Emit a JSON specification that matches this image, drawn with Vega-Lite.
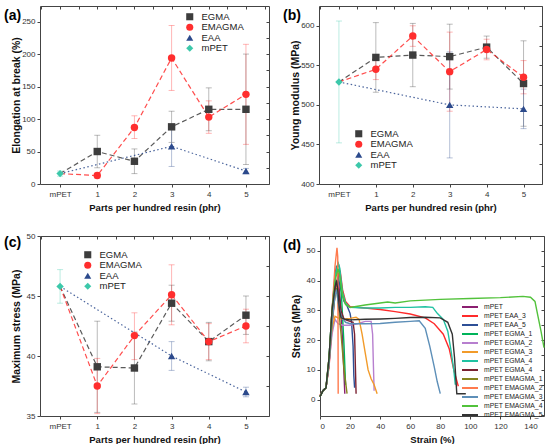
{
  "$schema": "https://vega.github.io/schema/vega-lite/v6.json",
  "padding": {"left": 3, "top": 5, "right": 0, "bottom": 0},
  "config": {
    "font": "Liberation Sans",
    "view": {"stroke": "#444", "strokeWidth": 1},
    "axis": {"labelFont": "Liberation Sans", "labelFontSize": 8, "labelColor": "#333", "titleFont": "Liberation Sans", "titleFontWeight": "bold", "titleColor": "#111", "grid": false, "domain": false, "tickColor": "#444", "tickSize": 3},
    "legend": {"labelFont": "Liberation Sans", "labelColor": "#222", "symbolOpacity": 1},
    "title": {"font": "Liberation Sans"}
  },
  "datasets": {
    "props": [
      {"p": "a", "s": "EGMA", "x": 0, "y": 16},
      {"p": "a", "s": "EMAGMA", "x": 0, "y": 16},
      {"p": "a", "s": "EAA", "x": 0, "y": 16},
      {"p": "a", "s": "EGMA", "x": 1, "y": 50, "lo": 25, "hi": 75},
      {"p": "a", "s": "EGMA", "x": 2, "y": 35, "lo": 16, "hi": 54},
      {"p": "a", "s": "EGMA", "x": 3, "y": 88, "lo": 64, "hi": 112},
      {"p": "a", "s": "EGMA", "x": 4, "y": 115, "lo": 82, "hi": 148},
      {"p": "a", "s": "EGMA", "x": 5, "y": 115, "lo": 30, "hi": 200},
      {"p": "a", "s": "EMAGMA", "x": 1, "y": 13, "lo": 9, "hi": 17},
      {"p": "a", "s": "EMAGMA", "x": 2, "y": 87, "lo": 70, "hi": 105},
      {"p": "a", "s": "EMAGMA", "x": 3, "y": 194, "lo": 144, "hi": 244},
      {"p": "a", "s": "EMAGMA", "x": 4, "y": 103, "lo": 78, "hi": 128},
      {"p": "a", "s": "EMAGMA", "x": 5, "y": 138, "lo": 61, "hi": 215},
      {"p": "a", "s": "EAA", "x": 3, "y": 58, "lo": 27, "hi": 90},
      {"p": "a", "s": "EAA", "x": 5, "y": 20, "lo": 16, "hi": 24},
      {"p": "a", "s": "mPET", "x": 0, "y": 16, "lo": 12, "hi": 20},
      {"p": "b", "s": "EGMA", "x": 0, "y": 529},
      {"p": "b", "s": "EMAGMA", "x": 0, "y": 529},
      {"p": "b", "s": "EAA", "x": 0, "y": 529},
      {"p": "b", "s": "EGMA", "x": 1, "y": 560, "lo": 516, "hi": 604},
      {"p": "b", "s": "EGMA", "x": 2, "y": 563, "lo": 523, "hi": 603},
      {"p": "b", "s": "EGMA", "x": 3, "y": 561, "lo": 520, "hi": 602},
      {"p": "b", "s": "EGMA", "x": 4, "y": 573, "lo": 559, "hi": 587},
      {"p": "b", "s": "EGMA", "x": 5, "y": 527, "lo": 473, "hi": 581},
      {"p": "b", "s": "EMAGMA", "x": 1, "y": 545, "lo": 532, "hi": 558},
      {"p": "b", "s": "EMAGMA", "x": 2, "y": 587, "lo": 574, "hi": 600},
      {"p": "b", "s": "EMAGMA", "x": 3, "y": 542, "lo": 492, "hi": 592},
      {"p": "b", "s": "EMAGMA", "x": 4, "y": 570, "lo": 557, "hi": 583},
      {"p": "b", "s": "EMAGMA", "x": 5, "y": 535, "lo": 514, "hi": 556},
      {"p": "b", "s": "EAA", "x": 3, "y": 500, "lo": 433, "hi": 567},
      {"p": "b", "s": "EAA", "x": 5, "y": 495, "lo": 470, "hi": 520},
      {"p": "b", "s": "mPET", "x": 0, "y": 529, "lo": 452, "hi": 606},
      {"p": "c", "s": "EGMA", "x": 0, "y": 45.8},
      {"p": "c", "s": "EMAGMA", "x": 0, "y": 45.8},
      {"p": "c", "s": "EAA", "x": 0, "y": 45.8},
      {"p": "c", "s": "EGMA", "x": 1, "y": 39.1, "lo": 35.3, "hi": 42.9},
      {"p": "c", "s": "EGMA", "x": 2, "y": 39.0, "lo": 36.0, "hi": 42.0},
      {"p": "c", "s": "EGMA", "x": 3, "y": 44.4, "lo": 42.9, "hi": 45.9},
      {"p": "c", "s": "EGMA", "x": 4, "y": 41.2, "lo": 39.6, "hi": 42.8},
      {"p": "c", "s": "EGMA", "x": 5, "y": 43.4, "lo": 41.8, "hi": 45.0},
      {"p": "c", "s": "EMAGMA", "x": 1, "y": 37.5, "lo": 35.2, "hi": 39.8},
      {"p": "c", "s": "EMAGMA", "x": 2, "y": 41.7, "lo": 39.7, "hi": 43.6},
      {"p": "c", "s": "EMAGMA", "x": 3, "y": 45.1, "lo": 42.6, "hi": 47.6},
      {"p": "c", "s": "EMAGMA", "x": 4, "y": 41.2, "lo": 39.7, "hi": 42.7},
      {"p": "c", "s": "EMAGMA", "x": 5, "y": 42.5, "lo": 41.1, "hi": 43.9},
      {"p": "c", "s": "EAA", "x": 3, "y": 40.0, "lo": 38.8, "hi": 41.2},
      {"p": "c", "s": "EAA", "x": 5, "y": 37.0, "lo": 36.6, "hi": 37.4},
      {"p": "c", "s": "mPET", "x": 0, "y": 45.8, "lo": 44.4, "hi": 47.2}
    ],
    "curves": [
      {"s": "mPET", "x": 0, "y": 1.2}, {"s": "mPET", "x": 2, "y": 3}, {"s": "mPET", "x": 4, "y": 4}, {"s": "mPET", "x": 6, "y": 14}, {"s": "mPET", "x": 8, "y": 30}, {"s": "mPET", "x": 10, "y": 42}, {"s": "mPET", "x": 11, "y": 45}, {"s": "mPET", "x": 12, "y": 42}, {"s": "mPET", "x": 13.5, "y": 33}, {"s": "mPET", "x": 15, "y": 20}, {"s": "mPET", "x": 16, "y": 8}, {"s": "mPET", "x": 16.5, "y": 2},
      {"s": "mPET EAA_3", "x": 0, "y": 1.5}, {"s": "mPET EAA_3", "x": 2, "y": 3}, {"s": "mPET EAA_3", "x": 4, "y": 4}, {"s": "mPET EAA_3", "x": 6, "y": 11}, {"s": "mPET EAA_3", "x": 8, "y": 24}, {"s": "mPET EAA_3", "x": 10, "y": 36}, {"s": "mPET EAA_3", "x": 12, "y": 42}, {"s": "mPET EAA_3", "x": 13.5, "y": 43}, {"s": "mPET EAA_3", "x": 15, "y": 37}, {"s": "mPET EAA_3", "x": 17, "y": 33}, {"s": "mPET EAA_3", "x": 20, "y": 31.2}, {"s": "mPET EAA_3", "x": 30, "y": 30.8}, {"s": "mPET EAA_3", "x": 40, "y": 30.3}, {"s": "mPET EAA_3", "x": 50, "y": 29.6}, {"s": "mPET EAA_3", "x": 60, "y": 28.8}, {"s": "mPET EAA_3", "x": 70, "y": 27.5}, {"s": "mPET EAA_3", "x": 76, "y": 25.5}, {"s": "mPET EAA_3", "x": 82, "y": 22}, {"s": "mPET EAA_3", "x": 86, "y": 17}, {"s": "mPET EAA_3", "x": 89, "y": 10}, {"s": "mPET EAA_3", "x": 92, "y": 4.5},
      {"s": "mPET EAA_5", "x": 0, "y": 1}, {"s": "mPET EAA_5", "x": 2, "y": 3}, {"s": "mPET EAA_5", "x": 4, "y": 4}, {"s": "mPET EAA_5", "x": 6, "y": 12}, {"s": "mPET EAA_5", "x": 8, "y": 28}, {"s": "mPET EAA_5", "x": 10, "y": 38}, {"s": "mPET EAA_5", "x": 12, "y": 41}, {"s": "mPET EAA_5", "x": 14, "y": 37}, {"s": "mPET EAA_5", "x": 16, "y": 33}, {"s": "mPET EAA_5", "x": 18, "y": 31.5}, {"s": "mPET EAA_5", "x": 20, "y": 29}, {"s": "mPET EAA_5", "x": 21, "y": 26}, {"s": "mPET EAA_5", "x": 22, "y": 18}, {"s": "mPET EAA_5", "x": 22.5, "y": 8}, {"s": "mPET EAA_5", "x": 23, "y": 4},
      {"s": "mPET EGMA_1", "x": 0, "y": 1}, {"s": "mPET EGMA_1", "x": 2, "y": 3}, {"s": "mPET EGMA_1", "x": 4, "y": 4}, {"s": "mPET EGMA_1", "x": 6, "y": 14}, {"s": "mPET EGMA_1", "x": 8, "y": 30}, {"s": "mPET EGMA_1", "x": 10, "y": 41}, {"s": "mPET EGMA_1", "x": 12, "y": 46}, {"s": "mPET EGMA_1", "x": 13, "y": 44}, {"s": "mPET EGMA_1", "x": 14.5, "y": 33}, {"s": "mPET EGMA_1", "x": 16, "y": 18}, {"s": "mPET EGMA_1", "x": 17, "y": 5},
      {"s": "mPET EGMA_2", "x": 0, "y": 1}, {"s": "mPET EGMA_2", "x": 2, "y": 3}, {"s": "mPET EGMA_2", "x": 4, "y": 4}, {"s": "mPET EGMA_2", "x": 6, "y": 12}, {"s": "mPET EGMA_2", "x": 8, "y": 22}, {"s": "mPET EGMA_2", "x": 10, "y": 27}, {"s": "mPET EGMA_2", "x": 12, "y": 25.5}, {"s": "mPET EGMA_2", "x": 15, "y": 25}, {"s": "mPET EGMA_2", "x": 20, "y": 25}, {"s": "mPET EGMA_2", "x": 25, "y": 25.5}, {"s": "mPET EGMA_2", "x": 30, "y": 26.3}, {"s": "mPET EGMA_2", "x": 34, "y": 26.3}, {"s": "mPET EGMA_2", "x": 35, "y": 22}, {"s": "mPET EGMA_2", "x": 35.5, "y": 12}, {"s": "mPET EGMA_2", "x": 36, "y": 3},
      {"s": "mPET EGMA_3", "x": 0, "y": 1}, {"s": "mPET EGMA_3", "x": 2, "y": 3}, {"s": "mPET EGMA_3", "x": 4, "y": 4}, {"s": "mPET EGMA_3", "x": 6, "y": 14}, {"s": "mPET EGMA_3", "x": 8, "y": 24}, {"s": "mPET EGMA_3", "x": 10, "y": 28}, {"s": "mPET EGMA_3", "x": 12, "y": 27.5}, {"s": "mPET EGMA_3", "x": 16, "y": 27}, {"s": "mPET EGMA_3", "x": 20, "y": 27.3}, {"s": "mPET EGMA_3", "x": 24, "y": 27.7}, {"s": "mPET EGMA_3", "x": 26, "y": 27}, {"s": "mPET EGMA_3", "x": 28, "y": 22}, {"s": "mPET EGMA_3", "x": 30, "y": 16}, {"s": "mPET EGMA_3", "x": 32, "y": 10}, {"s": "mPET EGMA_3", "x": 34, "y": 7}, {"s": "mPET EGMA_3", "x": 36, "y": 5}, {"s": "mPET EGMA_3", "x": 38, "y": 2},
      {"s": "mPET EGMA_4", "x": 0, "y": 1}, {"s": "mPET EGMA_4", "x": 2, "y": 3}, {"s": "mPET EGMA_4", "x": 4, "y": 4}, {"s": "mPET EGMA_4", "x": 6, "y": 13}, {"s": "mPET EGMA_4", "x": 8, "y": 28}, {"s": "mPET EGMA_4", "x": 10, "y": 41}, {"s": "mPET EGMA_4", "x": 12, "y": 46}, {"s": "mPET EGMA_4", "x": 13, "y": 44.5}, {"s": "mPET EGMA_4", "x": 15, "y": 36}, {"s": "mPET EGMA_4", "x": 17, "y": 32.5}, {"s": "mPET EGMA_4", "x": 20, "y": 31}, {"s": "mPET EGMA_4", "x": 30, "y": 30.8}, {"s": "mPET EGMA_4", "x": 40, "y": 30.8}, {"s": "mPET EGMA_4", "x": 50, "y": 31}, {"s": "mPET EGMA_4", "x": 60, "y": 31}, {"s": "mPET EGMA_4", "x": 70, "y": 31.2}, {"s": "mPET EGMA_4", "x": 75, "y": 31}, {"s": "mPET EGMA_4", "x": 78, "y": 29}, {"s": "mPET EGMA_4", "x": 82, "y": 27}, {"s": "mPET EGMA_4", "x": 85, "y": 23}, {"s": "mPET EGMA_4", "x": 87, "y": 17}, {"s": "mPET EGMA_4", "x": 89, "y": 10}, {"s": "mPET EGMA_4", "x": 90, "y": 5},
      {"s": "mPET EGMA_4 ", "x": 0, "y": 1}, {"s": "mPET EGMA_4 ", "x": 2, "y": 3}, {"s": "mPET EGMA_4 ", "x": 4, "y": 4}, {"s": "mPET EGMA_4 ", "x": 6, "y": 13}, {"s": "mPET EGMA_4 ", "x": 8, "y": 28}, {"s": "mPET EGMA_4 ", "x": 10, "y": 37}, {"s": "mPET EGMA_4 ", "x": 11, "y": 40}, {"s": "mPET EGMA_4 ", "x": 12, "y": 38}, {"s": "mPET EGMA_4 ", "x": 14, "y": 30}, {"s": "mPET EGMA_4 ", "x": 16, "y": 27}, {"s": "mPET EGMA_4 ", "x": 19, "y": 26.5}, {"s": "mPET EGMA_4 ", "x": 22, "y": 26}, {"s": "mPET EGMA_4 ", "x": 23, "y": 22}, {"s": "mPET EGMA_4 ", "x": 23.5, "y": 12}, {"s": "mPET EGMA_4 ", "x": 24, "y": 2},
      {"s": "mPET EMAGMA_1", "x": 0, "y": 1}, {"s": "mPET EMAGMA_1", "x": 2, "y": 3}, {"s": "mPET EMAGMA_1", "x": 4, "y": 4}, {"s": "mPET EMAGMA_1", "x": 6, "y": 12}, {"s": "mPET EMAGMA_1", "x": 8, "y": 26}, {"s": "mPET EMAGMA_1", "x": 10, "y": 35}, {"s": "mPET EMAGMA_1", "x": 11, "y": 37.5}, {"s": "mPET EMAGMA_1", "x": 12, "y": 33}, {"s": "mPET EMAGMA_1", "x": 14, "y": 22}, {"s": "mPET EMAGMA_1", "x": 16, "y": 10}, {"s": "mPET EMAGMA_1", "x": 18, "y": 2},
      {"s": "mPET EMAGMA_2", "x": 0, "y": 1}, {"s": "mPET EMAGMA_2", "x": 2, "y": 3}, {"s": "mPET EMAGMA_2", "x": 4, "y": 4}, {"s": "mPET EMAGMA_2", "x": 6, "y": 12}, {"s": "mPET EMAGMA_2", "x": 8, "y": 30}, {"s": "mPET EMAGMA_2", "x": 10, "y": 45}, {"s": "mPET EMAGMA_2", "x": 11.3, "y": 51}, {"s": "mPET EMAGMA_2", "x": 11.8, "y": 48}, {"s": "mPET EMAGMA_2", "x": 12, "y": 25}, {"s": "mPET EMAGMA_2", "x": 12.1, "y": 2},
      {"s": "mPET EMAGMA_3", "x": 0, "y": 1}, {"s": "mPET EMAGMA_3", "x": 2, "y": 3}, {"s": "mPET EMAGMA_3", "x": 4, "y": 4}, {"s": "mPET EMAGMA_3", "x": 6, "y": 12}, {"s": "mPET EMAGMA_3", "x": 8, "y": 26}, {"s": "mPET EMAGMA_3", "x": 10, "y": 35}, {"s": "mPET EMAGMA_3", "x": 11, "y": 37}, {"s": "mPET EMAGMA_3", "x": 12, "y": 33}, {"s": "mPET EMAGMA_3", "x": 14, "y": 28}, {"s": "mPET EMAGMA_3", "x": 17, "y": 26}, {"s": "mPET EMAGMA_3", "x": 20, "y": 25.5}, {"s": "mPET EMAGMA_3", "x": 30, "y": 25.5}, {"s": "mPET EMAGMA_3", "x": 40, "y": 25.6}, {"s": "mPET EMAGMA_3", "x": 50, "y": 26}, {"s": "mPET EMAGMA_3", "x": 60, "y": 26.3}, {"s": "mPET EMAGMA_3", "x": 66, "y": 26.5}, {"s": "mPET EMAGMA_3", "x": 70, "y": 24}, {"s": "mPET EMAGMA_3", "x": 73, "y": 18}, {"s": "mPET EMAGMA_3", "x": 76, "y": 11}, {"s": "mPET EMAGMA_3", "x": 78, "y": 6}, {"s": "mPET EMAGMA_3", "x": 80, "y": 2},
      {"s": "mPET EMAGMA_4", "x": 0, "y": 1}, {"s": "mPET EMAGMA_4", "x": 2, "y": 3}, {"s": "mPET EMAGMA_4", "x": 4, "y": 4}, {"s": "mPET EMAGMA_4", "x": 6, "y": 14}, {"s": "mPET EMAGMA_4", "x": 8, "y": 30}, {"s": "mPET EMAGMA_4", "x": 10, "y": 40}, {"s": "mPET EMAGMA_4", "x": 12, "y": 44}, {"s": "mPET EMAGMA_4", "x": 13, "y": 42}, {"s": "mPET EMAGMA_4", "x": 15, "y": 35}, {"s": "mPET EMAGMA_4", "x": 17, "y": 32}, {"s": "mPET EMAGMA_4", "x": 20, "y": 31}, {"s": "mPET EMAGMA_4", "x": 30, "y": 31.8}, {"s": "mPET EMAGMA_4", "x": 40, "y": 32.5}, {"s": "mPET EMAGMA_4", "x": 45, "y": 32.8}, {"s": "mPET EMAGMA_4", "x": 50, "y": 32.5}, {"s": "mPET EMAGMA_4", "x": 60, "y": 33.2}, {"s": "mPET EMAGMA_4", "x": 80, "y": 33.7}, {"s": "mPET EMAGMA_4", "x": 100, "y": 34}, {"s": "mPET EMAGMA_4", "x": 120, "y": 34.3}, {"s": "mPET EMAGMA_4", "x": 135, "y": 34.7}, {"s": "mPET EMAGMA_4", "x": 140, "y": 34.4}, {"s": "mPET EMAGMA_4", "x": 143, "y": 33}, {"s": "mPET EMAGMA_4", "x": 145, "y": 28}, {"s": "mPET EMAGMA_4", "x": 147, "y": 23}, {"s": "mPET EMAGMA_4", "x": 149, "y": 17.5},
      {"s": "mPET EMAGMA_5", "x": 0, "y": 1}, {"s": "mPET EMAGMA_5", "x": 2, "y": 3}, {"s": "mPET EMAGMA_5", "x": 4, "y": 4}, {"s": "mPET EMAGMA_5", "x": 6, "y": 14}, {"s": "mPET EMAGMA_5", "x": 8, "y": 30}, {"s": "mPET EMAGMA_5", "x": 10, "y": 38}, {"s": "mPET EMAGMA_5", "x": 11, "y": 40}, {"s": "mPET EMAGMA_5", "x": 12, "y": 36}, {"s": "mPET EMAGMA_5", "x": 13, "y": 30}, {"s": "mPET EMAGMA_5", "x": 14, "y": 27.5}, {"s": "mPET EMAGMA_5", "x": 17, "y": 27}, {"s": "mPET EMAGMA_5", "x": 20, "y": 26.8}, {"s": "mPET EMAGMA_5", "x": 30, "y": 27}, {"s": "mPET EMAGMA_5", "x": 40, "y": 27.1}, {"s": "mPET EMAGMA_5", "x": 50, "y": 27.3}, {"s": "mPET EMAGMA_5", "x": 60, "y": 27.6}, {"s": "mPET EMAGMA_5", "x": 70, "y": 27.7}, {"s": "mPET EMAGMA_5", "x": 80, "y": 27.5}, {"s": "mPET EMAGMA_5", "x": 85, "y": 26}, {"s": "mPET EMAGMA_5", "x": 88, "y": 22}, {"s": "mPET EMAGMA_5", "x": 89.5, "y": 14}, {"s": "mPET EMAGMA_5", "x": 90.5, "y": 6}, {"s": "mPET EMAGMA_5", "x": 91, "y": 2}, {"s": "mPET EMAGMA_5", "x": 97, "y": 2}
    ]
  },
  "resolve": {"scale": {"color": "independent", "shape": "independent", "strokeDash": "independent", "x": "independent", "y": "independent"}},
  "spacing": 19,
  "vconcat": [
    {
      "spacing": 12,
      "resolve": {"scale": {"color": "independent", "shape": "independent", "strokeDash": "independent", "x": "independent", "y": "independent"}},
      "hconcat": [
        {
          "width": 229, "height": 178,
          "title": {"text": "(a)", "anchor": "start", "frame": "group", "dx": -36, "offset": -17, "baseline": "top", "fontSize": 14, "fontWeight": "bold", "color": "#000"},
          "data": {"name": "props"},
          "transform": [{"filter": "datum.p == 'a'"}],
          "resolve": {"axis": {"x": "independent", "y": "independent"}},
          "layer": [
            {
              "transform": [{"filter": "isValid(datum.lo)"}],
              "mark": {"type": "errorbar", "ticks": true, "size": 6, "thickness": 1, "opacity": 0.35},
              "encoding": {
                "x": {"field": "x", "type": "quantitative", "scale": {"domain": [-0.54, 5.62], "nice": false, "zero": false}, "axis": {"values": [0, 1, 2, 3, 4, 5], "labelExpr": "datum.value == 0 ? 'mPET' : datum.label", "title": "Parts per hundred resin (phr)", "titleFontSize": 9.5, "labelPadding": 3, "titlePadding": 4}},
                "y": {"field": "lo", "type": "quantitative", "title": "Elongation at break (%)", "scale": {"domain": [0, 274], "nice": false}, "axis": {"values": [0, 50, 100, 150, 200, 250], "titleFontSize": 10.5, "minExtent": 16, "maxExtent": 16, "titlePadding": 3, "labelPadding": 2}},
                "y2": {"field": "hi"},
                "color": {"field": "s", "type": "nominal", "scale": {"domain": ["EGMA", "EMAGMA", "EAA", "mPET"], "range": ["#3d3d3d", "#ff2e2e", "#2c4a8c", "#3cc8aa"]}, "legend": {"orient": "none", "legendX": 145, "legendY": 6, "title": null, "labelFontSize": 9.5, "symbolSize": 50, "rowPadding": -0.5, "labelOffset": 7, "padding": 0, "symbolOpacity": 1, "symbolStrokeWidth": 0}}
              }
            },
            {
              "transform": [{"filter": "datum.s != 'mPET'"}],
              "mark": {"type": "line", "strokeWidth": 1.2, "opacity": 0.85},
              "encoding": {
                "x": {"field": "x", "type": "quantitative", "scale": {"domain": [-0.54, 5.62], "nice": false, "zero": false}, "axis": null},
                "y": {"field": "y", "type": "quantitative", "scale": {"domain": [0, 274], "nice": false}, "axis": null},
                "color": {"field": "s", "type": "nominal", "scale": {"domain": ["EGMA", "EMAGMA", "EAA", "mPET"], "range": ["#3d3d3d", "#ff2e2e", "#2c4a8c", "#3cc8aa"]}, "legend": {"orient": "none", "legendX": 145, "legendY": 6, "title": null, "labelFontSize": 9.5, "symbolSize": 50, "rowPadding": -0.5, "labelOffset": 7, "padding": 0, "symbolOpacity": 1, "symbolStrokeWidth": 0}},
                "strokeDash": {"field": "s", "type": "nominal", "scale": {"domain": ["EGMA", "EMAGMA", "EAA", "mPET"], "range": [[5, 3], [5, 3], [1.5, 2.5], [1, 0]]}, "legend": null}
              }
            },
            {
              "transform": [{"filter": "datum.x > 0 || datum.s == 'mPET'"}],
              "mark": {"type": "point", "filled": true, "opacity": 1, "size": 55},
              "encoding": {
                "x": {"field": "x", "type": "quantitative", "scale": {"domain": [-0.54, 5.62], "nice": false, "zero": false}, "axis": {"orient": "top", "labels": false, "title": null, "tickSize": -3, "values": [-0.5, 0, 0.5, 1, 1.5, 2, 2.5, 3, 3.5, 4, 4.5, 5, 5.5], "minExtent": 0, "maxExtent": 0}},
                "y": {"field": "y", "type": "quantitative", "scale": {"domain": [0, 274], "nice": false}, "axis": {"orient": "right", "labels": false, "title": null, "tickSize": -3, "values": [0, 25, 50, 75, 100, 125, 150, 175, 200, 225, 250], "minExtent": 0, "maxExtent": 0}},
                "color": {"field": "s", "type": "nominal", "scale": {"domain": ["EGMA", "EMAGMA", "EAA", "mPET"], "range": ["#3d3d3d", "#ff2e2e", "#2c4a8c", "#3cc8aa"]}, "legend": {"orient": "none", "legendX": 145, "legendY": 6, "title": null, "labelFontSize": 9.5, "symbolSize": 50, "rowPadding": -0.5, "labelOffset": 7, "padding": 0, "symbolOpacity": 1, "symbolStrokeWidth": 0}},
                "shape": {"field": "s", "type": "nominal", "scale": {"domain": ["EGMA", "EMAGMA", "EAA", "mPET"], "range": ["square", "circle", "triangle-up", "diamond"]}, "legend": {"orient": "none", "legendX": 145, "legendY": 6, "title": null, "labelFontSize": 9.5, "symbolSize": 50, "rowPadding": -0.5, "labelOffset": 7, "padding": 0, "symbolOpacity": 1, "symbolStrokeWidth": 0}}
              }
            }
          ]
        },
        {
          "width": 223, "height": 178,
          "title": {"text": "(b)", "anchor": "start", "frame": "group", "dx": -36, "offset": -17, "baseline": "top", "fontSize": 14, "fontWeight": "bold", "color": "#000"},
          "data": {"name": "props"},
          "transform": [{"filter": "datum.p == 'b'"}],
          "resolve": {"axis": {"x": "independent", "y": "independent"}},
          "layer": [
            {
              "transform": [{"filter": "isValid(datum.lo)"}],
              "mark": {"type": "errorbar", "ticks": true, "size": 6, "thickness": 1, "opacity": 0.35},
              "encoding": {
                "x": {"field": "x", "type": "quantitative", "scale": {"domain": [-0.54, 5.5], "nice": false, "zero": false}, "axis": {"values": [0, 1, 2, 3, 4, 5], "labelExpr": "datum.value == 0 ? 'mPET' : datum.label", "title": "Parts per hundred resin (phr)", "titleFontSize": 9.5, "labelPadding": 3, "titlePadding": 4}},
                "y": {"field": "lo", "type": "quantitative", "title": "Young modulus (MPa)", "scale": {"domain": [400, 625], "nice": false, "zero": false}, "axis": {"values": [400, 450, 500, 550, 600], "titleFontSize": 10.5, "minExtent": 16, "maxExtent": 16, "titlePadding": 3, "labelPadding": 2}},
                "y2": {"field": "hi"},
                "color": {"field": "s", "type": "nominal", "scale": {"domain": ["EGMA", "EMAGMA", "EAA", "mPET"], "range": ["#3d3d3d", "#ff2e2e", "#2c4a8c", "#3cc8aa"]}, "legend": {"orient": "none", "legendX": 35, "legendY": 123, "title": null, "labelFontSize": 9.5, "symbolSize": 50, "rowPadding": -0.5, "labelOffset": 7, "padding": 0, "symbolOpacity": 1, "symbolStrokeWidth": 0}}
              }
            },
            {
              "transform": [{"filter": "datum.s != 'mPET'"}],
              "mark": {"type": "line", "strokeWidth": 1.2, "opacity": 0.85},
              "encoding": {
                "x": {"field": "x", "type": "quantitative", "scale": {"domain": [-0.54, 5.5], "nice": false, "zero": false}, "axis": null},
                "y": {"field": "y", "type": "quantitative", "scale": {"domain": [400, 625], "nice": false, "zero": false}, "axis": null},
                "color": {"field": "s", "type": "nominal", "scale": {"domain": ["EGMA", "EMAGMA", "EAA", "mPET"], "range": ["#3d3d3d", "#ff2e2e", "#2c4a8c", "#3cc8aa"]}, "legend": {"orient": "none", "legendX": 35, "legendY": 123, "title": null, "labelFontSize": 9.5, "symbolSize": 50, "rowPadding": -0.5, "labelOffset": 7, "padding": 0, "symbolOpacity": 1, "symbolStrokeWidth": 0}},
                "strokeDash": {"field": "s", "type": "nominal", "scale": {"domain": ["EGMA", "EMAGMA", "EAA", "mPET"], "range": [[5, 3], [5, 3], [1.5, 2.5], [1, 0]]}, "legend": null}
              }
            },
            {
              "transform": [{"filter": "datum.x > 0 || datum.s == 'mPET'"}],
              "mark": {"type": "point", "filled": true, "opacity": 1, "size": 55},
              "encoding": {
                "x": {"field": "x", "type": "quantitative", "scale": {"domain": [-0.54, 5.5], "nice": false, "zero": false}, "axis": {"orient": "top", "labels": false, "title": null, "tickSize": -3, "values": [-0.5, 0, 0.5, 1, 1.5, 2, 2.5, 3, 3.5, 4, 4.5, 5], "minExtent": 0, "maxExtent": 0}},
                "y": {"field": "y", "type": "quantitative", "scale": {"domain": [400, 625], "nice": false, "zero": false}, "axis": {"orient": "right", "labels": false, "title": null, "tickSize": -3, "values": [400, 425, 450, 475, 500, 525, 550, 575, 600, 625], "minExtent": 0, "maxExtent": 0}},
                "color": {"field": "s", "type": "nominal", "scale": {"domain": ["EGMA", "EMAGMA", "EAA", "mPET"], "range": ["#3d3d3d", "#ff2e2e", "#2c4a8c", "#3cc8aa"]}, "legend": {"orient": "none", "legendX": 35, "legendY": 123, "title": null, "labelFontSize": 9.5, "symbolSize": 50, "rowPadding": -0.5, "labelOffset": 7, "padding": 0, "symbolOpacity": 1, "symbolStrokeWidth": 0}},
                "shape": {"field": "s", "type": "nominal", "scale": {"domain": ["EGMA", "EMAGMA", "EAA", "mPET"], "range": ["square", "circle", "triangle-up", "diamond"]}, "legend": {"orient": "none", "legendX": 35, "legendY": 123, "title": null, "labelFontSize": 9.5, "symbolSize": 50, "rowPadding": -0.5, "labelOffset": 7, "padding": 0, "symbolOpacity": 1, "symbolStrokeWidth": 0}}
              }
            }
          ]
        }
      ]
    },
    {
      "spacing": 12,
      "resolve": {"scale": {"color": "independent", "shape": "independent", "strokeDash": "independent", "x": "independent", "y": "independent"}},
      "hconcat": [
        {
          "width": 229, "height": 180,
          "title": {"text": "(c)", "anchor": "start", "frame": "group", "dx": -36, "offset": -18, "baseline": "top", "fontSize": 14, "fontWeight": "bold", "color": "#000"},
          "data": {"name": "props"},
          "transform": [{"filter": "datum.p == 'c'"}],
          "resolve": {"axis": {"x": "independent", "y": "independent"}},
          "layer": [
            {
              "transform": [{"filter": "isValid(datum.lo)"}],
              "mark": {"type": "errorbar", "ticks": true, "size": 6, "thickness": 1, "opacity": 0.35},
              "encoding": {
                "x": {"field": "x", "type": "quantitative", "scale": {"domain": [-0.54, 5.62], "nice": false, "zero": false}, "axis": {"values": [0, 1, 2, 3, 4, 5], "labelExpr": "datum.value == 0 ? 'mPET' : datum.label", "title": "Parts per hundred resin (phr)", "titleFontSize": 9.5, "labelPadding": 3, "titlePadding": 4}},
                "y": {"field": "lo", "type": "quantitative", "title": "Maximum stress (MPa)", "scale": {"domain": [35, 50], "nice": false, "zero": false}, "axis": {"values": [35, 40, 45, 50], "titleFontSize": 10.5, "minExtent": 16, "maxExtent": 16, "titlePadding": 3, "labelPadding": 2}},
                "y2": {"field": "hi"},
                "color": {"field": "s", "type": "nominal", "scale": {"domain": ["EGMA", "EMAGMA", "EAA", "mPET"], "range": ["#3d3d3d", "#ff2e2e", "#2c4a8c", "#3cc8aa"]}, "legend": {"orient": "none", "legendX": 43, "legendY": 14, "title": null, "labelFontSize": 9.5, "symbolSize": 50, "rowPadding": -0.5, "labelOffset": 7, "padding": 0, "symbolOpacity": 1, "symbolStrokeWidth": 0}}
              }
            },
            {
              "transform": [{"filter": "datum.s != 'mPET'"}],
              "mark": {"type": "line", "strokeWidth": 1.2, "opacity": 0.85},
              "encoding": {
                "x": {"field": "x", "type": "quantitative", "scale": {"domain": [-0.54, 5.62], "nice": false, "zero": false}, "axis": null},
                "y": {"field": "y", "type": "quantitative", "scale": {"domain": [35, 50], "nice": false, "zero": false}, "axis": null},
                "color": {"field": "s", "type": "nominal", "scale": {"domain": ["EGMA", "EMAGMA", "EAA", "mPET"], "range": ["#3d3d3d", "#ff2e2e", "#2c4a8c", "#3cc8aa"]}, "legend": {"orient": "none", "legendX": 43, "legendY": 14, "title": null, "labelFontSize": 9.5, "symbolSize": 50, "rowPadding": -0.5, "labelOffset": 7, "padding": 0, "symbolOpacity": 1, "symbolStrokeWidth": 0}},
                "strokeDash": {"field": "s", "type": "nominal", "scale": {"domain": ["EGMA", "EMAGMA", "EAA", "mPET"], "range": [[5, 3], [5, 3], [1.5, 2.5], [1, 0]]}, "legend": null}
              }
            },
            {
              "transform": [{"filter": "datum.x > 0 || datum.s == 'mPET'"}],
              "mark": {"type": "point", "filled": true, "opacity": 1, "size": 55},
              "encoding": {
                "x": {"field": "x", "type": "quantitative", "scale": {"domain": [-0.54, 5.62], "nice": false, "zero": false}, "axis": {"orient": "top", "labels": false, "title": null, "tickSize": -3, "values": [-0.5, 0, 0.5, 1, 1.5, 2, 2.5, 3, 3.5, 4, 4.5, 5, 5.5], "minExtent": 0, "maxExtent": 0}},
                "y": {"field": "y", "type": "quantitative", "scale": {"domain": [35, 50], "nice": false, "zero": false}, "axis": {"orient": "right", "labels": false, "title": null, "tickSize": -3, "values": [35, 37.5, 40, 42.5, 45, 47.5, 50], "minExtent": 0, "maxExtent": 0}},
                "color": {"field": "s", "type": "nominal", "scale": {"domain": ["EGMA", "EMAGMA", "EAA", "mPET"], "range": ["#3d3d3d", "#ff2e2e", "#2c4a8c", "#3cc8aa"]}, "legend": {"orient": "none", "legendX": 43, "legendY": 14, "title": null, "labelFontSize": 9.5, "symbolSize": 50, "rowPadding": -0.5, "labelOffset": 7, "padding": 0, "symbolOpacity": 1, "symbolStrokeWidth": 0}},
                "shape": {"field": "s", "type": "nominal", "scale": {"domain": ["EGMA", "EMAGMA", "EAA", "mPET"], "range": ["square", "circle", "triangle-up", "diamond"]}, "legend": {"orient": "none", "legendX": 43, "legendY": 14, "title": null, "labelFontSize": 9.5, "symbolSize": 50, "rowPadding": -0.5, "labelOffset": 7, "padding": 0, "symbolOpacity": 1, "symbolStrokeWidth": 0}}
              }
            }
          ]
        },
        {
          "width": 224, "height": 180,
          "title": {"text": "(d)", "anchor": "start", "frame": "group", "dx": -37, "offset": -17, "baseline": "top", "fontSize": 14, "fontWeight": "bold", "color": "#000"},
          "data": {"name": "curves"},
          "resolve": {"axis": {"x": "independent", "y": "independent"}},
          "layer": [
            {
              "mark": {"type": "line", "strokeWidth": 1.4},
              "encoding": {
                "x": {"field": "x", "type": "quantitative", "scale": {"domain": [0, 149], "nice": false}, "axis": {"values": [0, 20, 40, 60, 80, 100, 120, 140], "title": "Strain (%)", "titleFontSize": 9.5, "labelPadding": 3, "titlePadding": 4}},
                "y": {"field": "y", "type": "quantitative", "scale": {"domain": [-5.5, 55], "nice": false, "zero": false}, "axis": {"values": [0, 10, 20, 30, 40, 50], "title": "Stress (MPa)", "titleFontSize": 10.5, "minExtent": 16, "maxExtent": 16, "titlePadding": 3, "labelPadding": 2}},
                "color": {"field": "s", "type": "nominal", "scale": {"domain": ["mPET", "mPET EAA_3", "mPET EAA_5", "mPET EGMA_1", "mPET EGMA_2", "mPET EGMA_3", "mPET EGMA_4", "mPET EGMA_4 ", "mPET EMAGMA_1", "mPET EMAGMA_2", "mPET EMAGMA_3", "mPET EMAGMA_4", "mPET EMAGMA_5"], "range": ["#8b1f70", "#ff2b2b", "#2d4f96", "#00b35a", "#b77fcf", "#f29b2a", "#20c2a2", "#7b2232", "#85851f", "#ff7a4d", "#5d8fb8", "#52c23b", "#333333"]}, "legend": {"orient": "none", "legendX": 145, "legendY": 66, "title": null, "labelFontSize": 6.8, "symbolType": "M-2,0H2", "symbolStrokeWidth": 2, "symbolSize": 64, "rowPadding": -2.3, "labelOffset": 9, "padding": 0}},
                "order": {"value": null}
              }
            },
            {
              "mark": {"type": "line", "opacity": 0},
              "encoding": {
                "x": {"field": "x", "type": "quantitative", "scale": {"domain": [0, 149], "nice": false}, "axis": {"orient": "top", "labels": false, "title": null, "tickSize": -3, "values": [0, 10, 20, 30, 40, 50, 60, 70, 80, 90, 100, 110, 120, 130, 140], "minExtent": 0, "maxExtent": 0}},
                "y": {"field": "y", "type": "quantitative", "scale": {"domain": [-5.5, 55], "nice": false, "zero": false}, "axis": {"orient": "right", "labels": false, "title": null, "tickSize": -3, "values": [-5, 0, 5, 10, 15, 20, 25, 30, 35, 40, 45, 50, 55], "minExtent": 0, "maxExtent": 0}},
                "detail": {"field": "s", "type": "nominal"},
                "order": {"value": null}
              }
            }
          ]
        }
      ]
    }
  ]
}
